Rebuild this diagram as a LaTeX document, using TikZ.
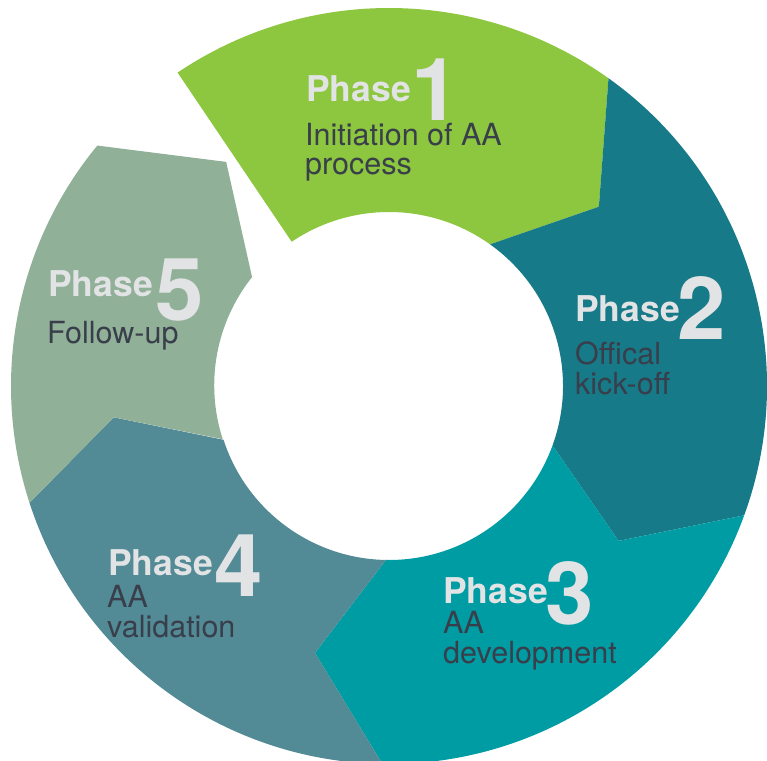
\documentclass[tikz,border=0pt]{standalone}
\usepackage{fontspec}
\usepackage{tikz}
\setmainfont{TeX Gyre Heros}

\definecolor{phaseone}{RGB}{141,198,63}
\definecolor{phasetwo}{RGB}{23,122,136}
\definecolor{phasethree}{RGB}{0,156,163}
\definecolor{phasefour}{RGB}{82,138,149}
\definecolor{phasefive}{RGB}{145,176,152}
\definecolor{labelgray}{RGB}{226,227,229}
\definecolor{bodyink}{RGB}{57,62,75}

\tikzset{
  phasetxt/.style={anchor=base west, inner sep=0pt, text=labelgray,
    font=\fontsize{35.5}{36}\selectfont\bfseries},
  phasenum/.style={anchor=base west, inner sep=0pt, text=labelgray,
    font=\fontsize{87}{87}\selectfont\bfseries},
  bodytxt/.style={anchor=base west, inner sep=0pt, text=bodyink, align=left,
    font=\fontsize{30.5}{29.5}\selectfont}
}

\begin{document}
\begin{tikzpicture}[x=1pt,y=1pt]
\useasboundingbox (-389,-374) rectangle (378,386) ;

% ring pieces, clockwise from the top
\fill[phaseone] (124:378) arc[start angle=124, end angle=54.5, radius=378] -- (40.5:276)
  -- (54.5:174) arc[start angle=54.5, end angle=124, radius=174] -- cycle ;
\fill[phasetwo] (54.5:378) arc[start angle=54.5, end angle=-20, radius=378] -- (-34:277)
  -- (-20:174) arc[start angle=-20, end angle=54.5, radius=174] -- (40.5:276) -- cycle ;
\fill[phasethree] (-20:378) arc[start angle=-20, end angle=-91, radius=378] -- (-105.5:277)
  -- (-91:174) arc[start angle=-91, end angle=-20, radius=174] -- (-34:277) -- cycle ;
\fill[phasefour] (-91:378) arc[start angle=-91, end angle=-162, radius=378] -- (-173.5:277)
  -- (-162:174) arc[start angle=-162, end angle=-91, radius=174] -- (-105.5:277) -- cycle ;
\fill[phasefive] (-162:378) arc[start angle=-162, end angle=-219.5, radius=378] -- (-234:277)
  -- (-218.5:175) arc[start angle=-218.5, end angle=-162, radius=174] -- (-173.5:277) -- cycle ;

% phase 1 (two-line texts sit on their last line)
\draw (-83,284) node[phasetxt] (p1) {Phase} ;
\draw (22,265) node[phasenum] (n1) {1} ;
\draw (-84,211) node[bodytxt] (t1) {Initiation of AA\\process} ;

% phase 2
\draw (186,65) node[phasetxt] (p2) {Phase} ;
\draw (288,47) node[phasenum] (n2) {2} ;
\draw (186,-8) node[bodytxt] (t2) {Offical\\kick-off} ;

% phase 3
\draw (54,-217) node[phasetxt] (p3) {Phase} ;
\draw (156,-238) node[phasenum] (n3) {3} ;
\draw (54,-277) node[bodytxt] (t3) {AA\\development} ;

% phase 4
\draw (-281,-189) node[phasetxt] (p4) {Phase} ;
\draw (-175,-210) node[phasenum] (n4) {4} ;
\draw (-282,-251) node[bodytxt] (t4) {AA\\validation} ;

% phase 5
\draw (-341,89) node[phasetxt] (p5) {Phase} ;
\draw (-234,66) node[phasenum] (n5) {5} ;
\draw (-342,43) node[bodytxt] (t5) {Follow-up} ;

\end{tikzpicture}
\end{document}
